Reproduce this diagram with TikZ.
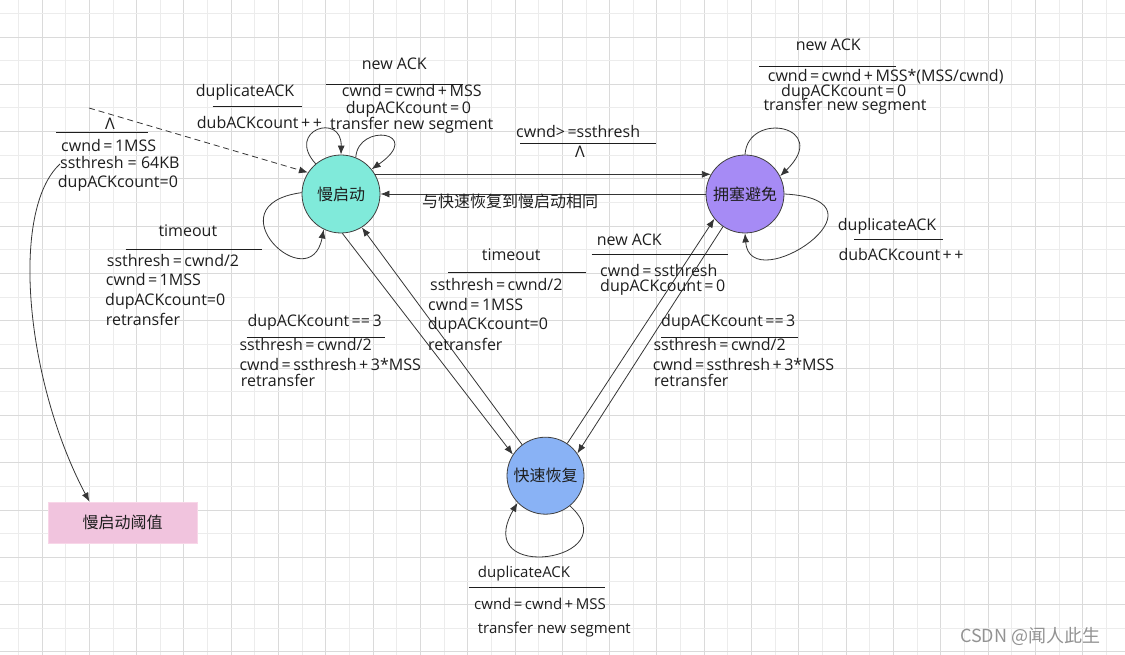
\documentclass[tikz,border=0pt]{standalone}
\usepackage{fontspec}
\setmainfont{Open Sans}
\newfontfamily\cjk{Noto Sans CJK SC}
\usetikzlibrary{arrows.meta}
\definecolor{gridminor}{RGB}{236,236,236}
\definecolor{gridmajor}{RGB}{218,218,218}
\definecolor{ssfill}{RGB}{128,234,218}
\definecolor{cafill}{RGB}{166,139,245}
\definecolor{frfill}{RGB}{137,178,245}
\definecolor{thfill}{RGB}{241,196,222}
\definecolor{thline}{RGB}{248,214,232}
\definecolor{ink}{RGB}{30,30,30}
\newcommand\eq{\kern2.5pt=\kern2.5pt}
\newcommand\pl{\kern2.5pt+\kern2.5pt}
\tikzset{
  >={Latex[length=9pt,width=7pt]},
}
\tikzstyle{state}=[circle,draw=ink!85,line width=0.8pt,minimum size=78pt,inner sep=0pt,text=ink,font=\cjk\fontsize{16}{16}\selectfont]
\tikzstyle{lbl}=[anchor=west,inner sep=0pt,text height=11pt,text depth=2.5pt,text=ink,font=\fontsize{16}{16}\selectfont]
\tikzstyle{edge}=[line width=0.8pt,draw=ink!90,->]
\tikzstyle{bar}=[line width=0.8pt,draw=ink]

\begin{document}
\begin{tikzpicture}[x=1pt,y=-1pt]
    \useasboundingbox (0,0) rectangle (1125,655);
    \fill[white] (0,0) rectangle (1125,655);
    \foreach \x in {18.3,65.6,...,1110} \draw[gridminor,line width=0.8pt] (\x,0)--(\x,655);
    \foreach \x in {41.95,89.25,...,1110} \draw[gridmajor,line width=0.8pt] (\x,0)--(\x,655);
    \foreach \y in {13.3,60.6,...,655} \draw[gridminor,line width=0.8pt] (0,\y)--(1125,\y);
    \foreach \y in {36.95,84.25,...,655} \draw[gridmajor,line width=0.8pt] (0,\y)--(1125,\y);

    \node[state,fill=ssfill] (ss) at (341,194) {慢启动};
    \node[state,fill=cafill] (ca) at (745,194) {拥塞避免};
    \node[state,fill=frfill,minimum size=77pt] (fr) at (545.5,475.7) {快速恢复};
    \node[draw=thline,fill=thfill,minimum width=149pt,minimum height=41pt,text=ink,font=\cjk\fontsize{16}{16}\selectfont] (th) at (122.5,522.3) {慢启动阈值};

    \node[lbl,anchor=center] (i0) at (110,125) {Λ};
    \draw[bar] (56,132.3) -- (148,132.3);
    \node[lbl] (i1) at (61,147.7) {cwnd\eq1MSS};
    \node[lbl] (i2) at (60,164) {ssthresh = 64KB};
    \node[lbl] (i3) at (57.7,183.3) {dupACKcount=0};
    \coordinate (init) at (89,108);
    \draw[edge,dash pattern=on 6pt off 4pt] (init) -- (ss.147.5);
    \draw[edge] (i2.west) .. controls (10,210) and (25,380) .. (th.148);

    \draw[edge] (ss.130) .. controls (285,130) and (342,112) .. (ss.90);
    \node[lbl] (sd1) at (195.7,92.7) {duplicateACK};
    \draw[bar] (212.7,106) -- (301.7,106);
    \node[lbl] (sd2) at (196.7,124.3) {dubACKcount\pl+};

    \draw[edge] (ss.68) .. controls (358,122) and (425,132) .. (ss.39);
    \node[lbl] (sn1) at (361.7,65) {new ACK};
    \draw[bar] (325.7,84) -- (462.7,84);
    \node[lbl] (sn2) at (341.7,92.7) {cwnd\eq cwnd\pl MSS};
    \node[lbl] (sn3) at (345.7,109.3) {dupACKcount\eq0};
    \node[lbl] (sn4) at (330,125) {transfer new segment};

    \draw[edge] (ss.178) .. controls (210,205) and (310,300) .. (ss.244);
    \node[lbl] (st1) at (158.3,232.7) {timeout};
    \draw[bar] (125.7,249.3) -- (262.3,249.3);
    \node[lbl] (st2) at (106.7,262.7) {ssthresh\eq cwnd/2};
    \node[lbl] (st3) at (105.7,281.7) {cwnd\eq1MSS};
    \node[lbl] (st4) at (105,301) {dupACKcount=0};
    \node[lbl] (st5) at (105.7,321.7) {retransfer};

    \draw[edge] (ss.30) -- (ca.150);
    \node[lbl] (sc1) at (516,133) {cwnd>\kern2.5pt=ssthresh};
    \draw[bar] (520,143.3) -- (656,143.3);
    \node[lbl,anchor=center] (sc2) at (580,153) {Λ};

    \draw[edge] (ca.180) -- (ss.0);
    \node[lbl,font=\cjk\fontsize{16}{16}\selectfont] (cs1) at (422,203.3) {与快速恢复到慢启动相同};

    \draw[edge] (ss.272) -- (fr.147);
    \node[lbl] (sf1) at (247.3,322.7) {dupACKcount\eq\kern-2.5pt=\kern2.5pt3};
    \draw[bar] (246.7,337.7) -- (385,337.7);
    \node[lbl] (sf2) at (239.3,346.7) {ssthresh\eq cwnd/2};
    \node[lbl] (sf3) at (239.3,366.7) {cwnd\eq ssthresh\pl3*MSS};
    \node[lbl] (sf4) at (240.7,382.3) {retransfer};

    \draw[edge] (fr.127) -- (ss.-58);
    \node[lbl] (fs1) at (481.7,256) {timeout};
    \draw[bar] (448.3,272.7) -- (585.7,272.7);
    \node[lbl] (fs2) at (430,286.7) {ssthresh\eq cwnd/2};
    \node[lbl] (fs3) at (428,306) {cwnd\eq1MSS};
    \node[lbl] (fs4) at (427.7,325) {dupACKcount=0};
    \node[lbl] (fs5) at (428,346.7) {retransfer};

    \draw[edge] (fr.56) -- (ca.219);
    \node[lbl] (fc1) at (596.7,241.7) {new ACK};
    \draw[bar] (591.7,254) -- (728.3,254);
    \node[lbl] (fc2) at (600,272.7) {cwnd\eq ssthresh};
    \node[lbl] (fc3) at (600,287.7) {dupACKcount\eq0};

    \draw[edge] (ca.236) -- (fr.35);
    \node[lbl] (cf1) at (661,322.7) {dupACKcount\eq\kern-2.5pt=\kern2.5pt3};
    \draw[bar] (661,337.7) -- (798.3,337.7);
    \node[lbl] (cf2) at (653.3,346) {ssthresh\eq cwnd/2};
    \node[lbl] (cf3) at (652.7,366) {cwnd\eq ssthresh\pl3*MSS};
    \node[lbl] (cf4) at (654,382.3) {retransfer};

    \draw[edge] (ca.90) .. controls (748,110) and (832,126) .. (ca.27);
    \node[lbl] (cn1) at (795.7,46) {new ACK};
    \draw[bar] (759.3,66) -- (896,66);
    \node[lbl] (cn2) at (767.7,77.7) {cwnd\eq cwnd\pl MSS*(MSS/cwnd)};
    \node[lbl] (cn3) at (781,92.3) {dupACKcount\eq0};
    \node[lbl] (cn4) at (763.3,106.5) {transfer new segment};

    \draw[edge] (ca.0) .. controls (900,200) and (750,300) .. (ca.270);
    \node[lbl] (cd1) at (837.7,226.7) {duplicateACK};
    \draw[bar] (854.3,239.3) -- (943.3,239.3);
    \node[lbl] (cd2) at (838.3,256.7) {dubACKcount\pl+};

    \draw[edge] (fr.-51) .. controls (630,560) and (470,585) .. (fr.224);
    \node[lbl,font=\fontsize{15}{15}\selectfont] (fd1) at (477.7,573.3) {duplicateACK};
    \draw[bar] (468.8,587.3) -- (605,587.3);
    \node[lbl,font=\fontsize{15}{15}\selectfont] (fd2) at (474,605) {cwnd\eq cwnd\pl MSS};
    \node[lbl,font=\fontsize{15}{15}\selectfont] (fd3) at (477.7,629.3) {transfer new segment};

    \node[lbl,text=gray!85,font=\cjk\fontsize{18}{18}\selectfont] (wm) at (960,638) {CSDN @闻人此生};
\end{tikzpicture}
\end{document}
